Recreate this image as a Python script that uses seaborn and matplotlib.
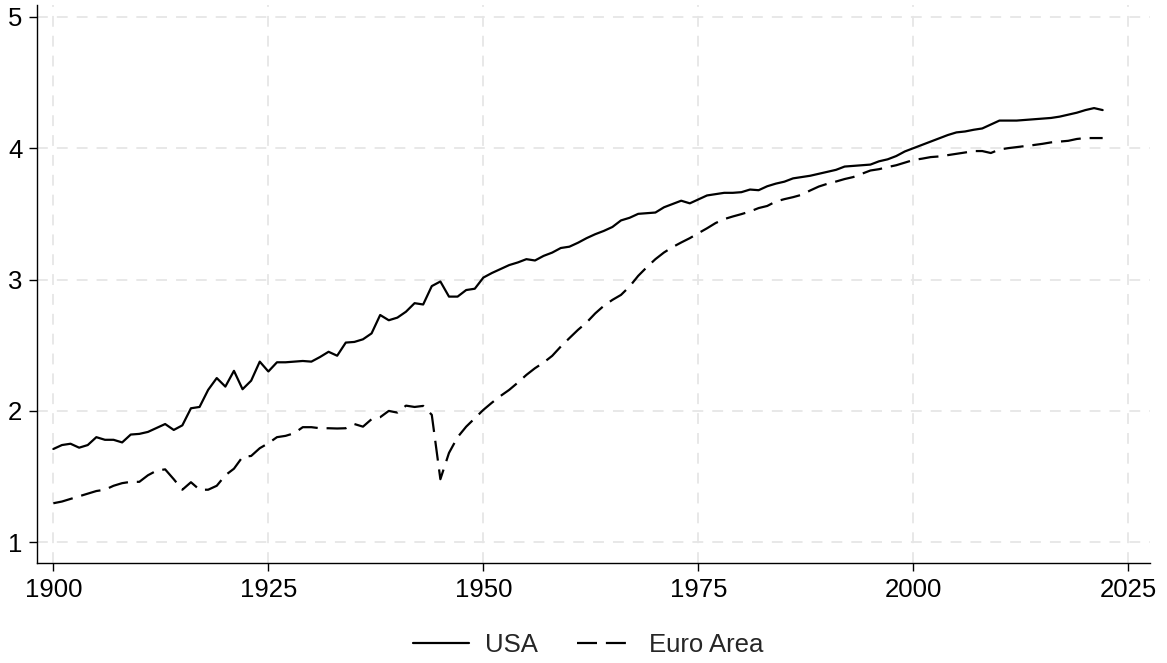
import numpy as np
import pandas as pd
import matplotlib
matplotlib.use("Agg")
import matplotlib.pyplot as plt
import seaborn as sns

# Annual series, 1900-2022
years = list(range(1900, 2023))

usa = [
    1.71, 1.74, 1.75, 1.72, 1.74, 1.80, 1.78, 1.78, 1.76, 1.82,  # 1900s
    1.825, 1.84, 1.87, 1.90, 1.855, 1.89, 2.02, 2.03, 2.16, 2.25,  # 1910s
    2.185, 2.305, 2.165, 2.23, 2.375, 2.30, 2.37, 2.37, 2.375, 2.38,  # 1920s
    2.375, 2.41, 2.45, 2.42, 2.52, 2.525, 2.545, 2.59, 2.73, 2.69,  # 1930s
    2.71, 2.755, 2.82, 2.81, 2.95, 2.985, 2.87, 2.87, 2.92, 2.93,  # 1940s
    3.015, 3.05, 3.08, 3.11, 3.13, 3.155, 3.145, 3.18, 3.205, 3.24,  # 1950s
    3.25, 3.28, 3.315, 3.345, 3.37, 3.40, 3.45, 3.47, 3.50, 3.505,  # 1960s
    3.51, 3.55, 3.575, 3.60, 3.58, 3.61, 3.64, 3.65, 3.66, 3.66,  # 1970s
    3.665, 3.685, 3.68, 3.71, 3.73, 3.745, 3.77, 3.78, 3.79, 3.805,  # 1980s
    3.82, 3.835, 3.86, 3.865, 3.87, 3.875, 3.90, 3.915, 3.94, 3.975,  # 1990s
    4.00, 4.025, 4.05, 4.075, 4.10, 4.12, 4.127, 4.14, 4.15, 4.18,  # 2000s
    4.21, 4.21, 4.21, 4.215, 4.22, 4.225, 4.23, 4.24, 4.255, 4.27,  # 2010s
    4.29, 4.305, 4.29,  # 2020-2022
]

euro_area = [
    1.297, 1.31, 1.33, 1.35, 1.37, 1.39, 1.40, 1.43, 1.45, 1.46,  # 1900s
    1.46, 1.51, 1.545, 1.555, 1.48, 1.40, 1.457, 1.40, 1.40, 1.43,  # 1910s
    1.51, 1.56, 1.65, 1.657, 1.716, 1.754, 1.80, 1.81, 1.83, 1.876,  # 1920s
    1.876, 1.868, 1.868, 1.866, 1.868, 1.90, 1.88, 1.937, 1.952, 2.00,  # 1930s
    1.987, 2.04, 2.03, 2.038, 1.97, 1.48, 1.68, 1.80, 1.88, 1.944,  # 1940s
    2.008, 2.063, 2.114, 2.16, 2.215, 2.274, 2.325, 2.368, 2.419, 2.49,  # 1950s
    2.554, 2.617, 2.673, 2.742, 2.80, 2.845, 2.883, 2.947, 3.028, 3.094,  # 1960s
    3.155, 3.206, 3.247, 3.282, 3.315, 3.353, 3.39, 3.43, 3.46, 3.48,  # 1970s
    3.498, 3.518, 3.544, 3.56, 3.594, 3.612, 3.627, 3.645, 3.678, 3.708,  # 1980s
    3.729, 3.746, 3.765, 3.78, 3.805, 3.83, 3.84, 3.856, 3.87, 3.89,  # 1990s
    3.91, 3.92, 3.932, 3.937, 3.947, 3.957, 3.967, 3.978, 3.978, 3.963,  # 2000s
    3.99, 4.00, 4.008, 4.016, 4.024, 4.033, 4.044, 4.05, 4.056, 4.07,  # 2010s
    4.077, 4.077, 4.077,  # 2020-2022
]

series_names = ["USA", "Euro Area"]
x_ticks = [1900, 1925, 1950, 1975, 2000, 2025]
y_ticks = [1, 2, 3, 4, 5]

df = pd.DataFrame({
    "year": years * 2,
    "value": usa + euro_area,
    "series": [series_names[0]] * len(years) + [series_names[1]] * len(years),
})

sns.set_theme(style="white")
plt.rcParams["font.family"] = ["Liberation Sans", "DejaVu Sans"]

fig = plt.figure(figsize=(11.67, 6.63), dpi=100)
ax = fig.add_axes([0.0317, 0.1508, 0.9537, 0.8417])

sns.lineplot(
    data=df, x="year", y="value", hue="series", style="series",
    hue_order=series_names, style_order=series_names,
    palette={"USA": "black", "Euro Area": "black"},
    dashes={"USA": "", "Euro Area": (9, 4)},
    linewidth=1.6, ax=ax, legend=True,
)

ax.set_xlim(1898.1, 2027.5)
ax.set_ylim(0.842, 5.09)
ax.set_xticks(x_ticks)
ax.set_yticks(y_ticks)
ax.set_xlabel("")
ax.set_ylabel("")

ax.grid(True, color="#e6e6e6", linestyle=(0, (6, 5)), linewidth=1.3)
ax.set_axisbelow(True)

for side in ["top", "right"]:
    ax.spines[side].set_visible(False)
for side in ["left", "bottom"]:
    ax.spines[side].set_color("black")
    ax.spines[side].set_linewidth(1.0)

ax.tick_params(axis="both", which="major", direction="out", length=5.5,
               width=1.0, color="black", labelsize=18.5, labelcolor="black",
               bottom=True, left=True, pad=5)

handles, labels = ax.get_legend_handles_labels()
ax.get_legend().remove()
fig.legend(handles, labels, loc="center", bbox_to_anchor=(0.504, 0.027),
           ncol=2, frameon=False, fontsize=18.5, handlelength=2.2,
           columnspacing=1.55, handletextpad=0.6)

fig.savefig("out.png", dpi=100, facecolor="white")
